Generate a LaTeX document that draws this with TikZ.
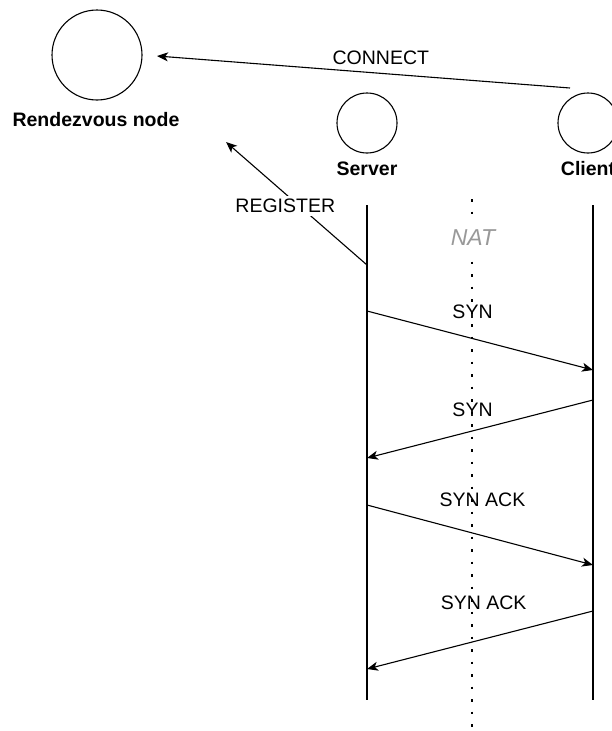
\documentclass[tikz,border=0pt]{standalone}
\usepackage{fontspec}
\setmainfont{Liberation Sans}
\usepackage{tikz}
\usetikzlibrary{arrows.meta}
\definecolor{natgray}{RGB}{153,153,153}
\tikzstyle{msg}=[line width=1.1pt,-{Stealth[length=11pt,width=9pt,inset=3pt]}]
\tikzstyle{actor}=[draw,circle,line width=1.1pt,inner sep=0pt]
\tikzstyle{life}=[line width=1.1pt]
\tikzstyle{lbl}=[font=\fontsize{19.5}{22}\selectfont,inner sep=3pt]
\tikzstyle{actorname}=[font=\fontsize{19.5}{22}\selectfont\bfseries]
\tikzstyle{nat}=[font=\fontsize{23}{26}\selectfont\itshape,text=natgray,fill=white,inner sep=6pt]

\begin{document}
\begin{tikzpicture}[x=1pt,y=-1pt]
\useasboundingbox (0,0) rectangle (612,731);
% the three actors
\node[actor,minimum size=90pt] (R) at (97,55) {};
\node[actorname] (RL) at (96,120) {Rendezvous node};
\node[actor,minimum size=60pt] (S) at (367,123) {};
\node[actorname] (SL) at (367,169) {Server};
\node[actor,minimum size=60pt] (C) at (588,123) {};
\node[actorname] (CL) at (588,169) {Client};
% lifelines
\coordinate (S0) at (367,205);
\coordinate (S1) at (367,700);
\coordinate (C0) at (593,205);
\coordinate (C1) at (593,700);
\draw[life] (S0)--(S1);
\draw[life] (C0)--(C1);
% NAT
\coordinate (N0) at (472,199);
\coordinate (N1) at (472,731);
\draw[line width=2.6pt,dash pattern=on 2.6pt off 9.9pt] (N0)--(N1);
\node[nat] (NAT) at (473,238) {NAT};
% rendezvous messages
\coordinate (CC) at (570,88);
\coordinate (RC) at (157,56);
\draw[msg] (CC)--(RC) node[pos=0.458,yshift=16pt,lbl,fill=white]{CONNECT};
\coordinate (SR) at (367,265);
\coordinate (RR) at (226,142);
\draw[msg] (SR)--(RR) node[pos=0.48,xshift=-14pt,lbl,fill=white]{REGISTER};
% handshake
\coordinate (S2) at (367,311);
\coordinate (C2) at (593,370);
\coordinate (C3) at (593,400);
\coordinate (S3) at (367,458);
\coordinate (S4) at (367,505);
\coordinate (C4) at (593,565);
\coordinate (C5) at (593,611);
\coordinate (S5) at (367,669);
\draw[msg] (S2)--(C2) node[pos=0.467,yshift=26.5pt,lbl]{SYN};
\draw[msg] (C3)--(S3) node[pos=0.533,yshift=21pt,lbl]{SYN};
\draw[msg] (S4)--(C4) node[pos=0.511,yshift=35.7pt,lbl]{SYN ACK};
\draw[msg] (C5)--(S5) node[pos=0.484,yshift=36pt,lbl]{SYN ACK};
\end{tikzpicture}
\end{document}
